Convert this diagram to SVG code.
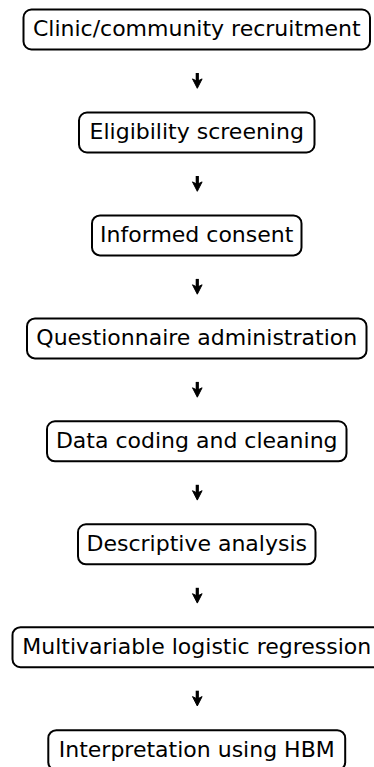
<svg xmlns="http://www.w3.org/2000/svg" width="374" height="767" viewBox="0 0 374 767">
<style>
.box{fill:#fff;stroke:#000;stroke-width:2}
.lbl{font-family:"DejaVu Sans",sans-serif;font-size:22px;text-anchor:middle;fill:#000}
.shaft{stroke:#000;stroke-width:3.2}
</style>
<defs>
<g id="arr">
<line class="shaft" x1="0" y1="-7.5" x2="0" y2="2"/>
<path d="M0,7.8 L-4.8,-1.6 L0,0.8 L4.8,-1.6 Z" fill="#000" stroke="#000" stroke-width="1" stroke-linejoin="miter"/>
</g>
</defs>
<g id="connectors">
<use href="#arr" x="197.3" y="80.5"/>
<use href="#arr" x="197.3" y="183.5"/>
<use href="#arr" x="197.3" y="286.4"/>
<use href="#arr" x="197.3" y="389.4"/>
<use href="#arr" x="197.3" y="492.3"/>
<use href="#arr" x="197.3" y="595.3"/>
<use href="#arr" x="197.3" y="698.2"/>
</g>
<g id="n1"><rect class="box" x="23.5" y="9.5" width="346.5" height="40" rx="8"/><text class="lbl" x="196.75" y="35.8">Clinic/community recruitment</text></g>
<g id="n2"><rect class="box" x="79" y="112.5" width="235.5" height="40" rx="8"/><text class="lbl" x="196.75" y="138.8">Eligibility screening</text></g>
<g id="n3"><rect class="box" x="92" y="215.4" width="209.5" height="40" rx="8"/><text class="lbl" x="196.75" y="241.7">Informed consent</text></g>
<g id="n4"><rect class="box" x="27" y="318.4" width="339.5" height="40" rx="8"/><text class="lbl" x="196.75" y="344.7">Questionnaire administration</text></g>
<g id="n5"><rect class="box" x="47" y="421.3" width="299.5" height="40" rx="8"/><text class="lbl" x="196.75" y="447.6">Data coding and cleaning</text></g>
<g id="n6"><rect class="box" x="78" y="524.3" width="237.5" height="40" rx="8"/><text class="lbl" x="196.75" y="550.6">Descriptive analysis</text></g>
<g id="n7"><rect class="box" x="12.5" y="627.2" width="368.5" height="40" rx="8"/><text class="lbl" x="196.75" y="653.5">Multivariable logistic regression</text></g>
<g id="n8"><rect class="box" x="48.3" y="730.2" width="296.9" height="40" rx="8"/><text class="lbl" x="196.75" y="756.5">Interpretation using HBM</text></g>
</svg>
